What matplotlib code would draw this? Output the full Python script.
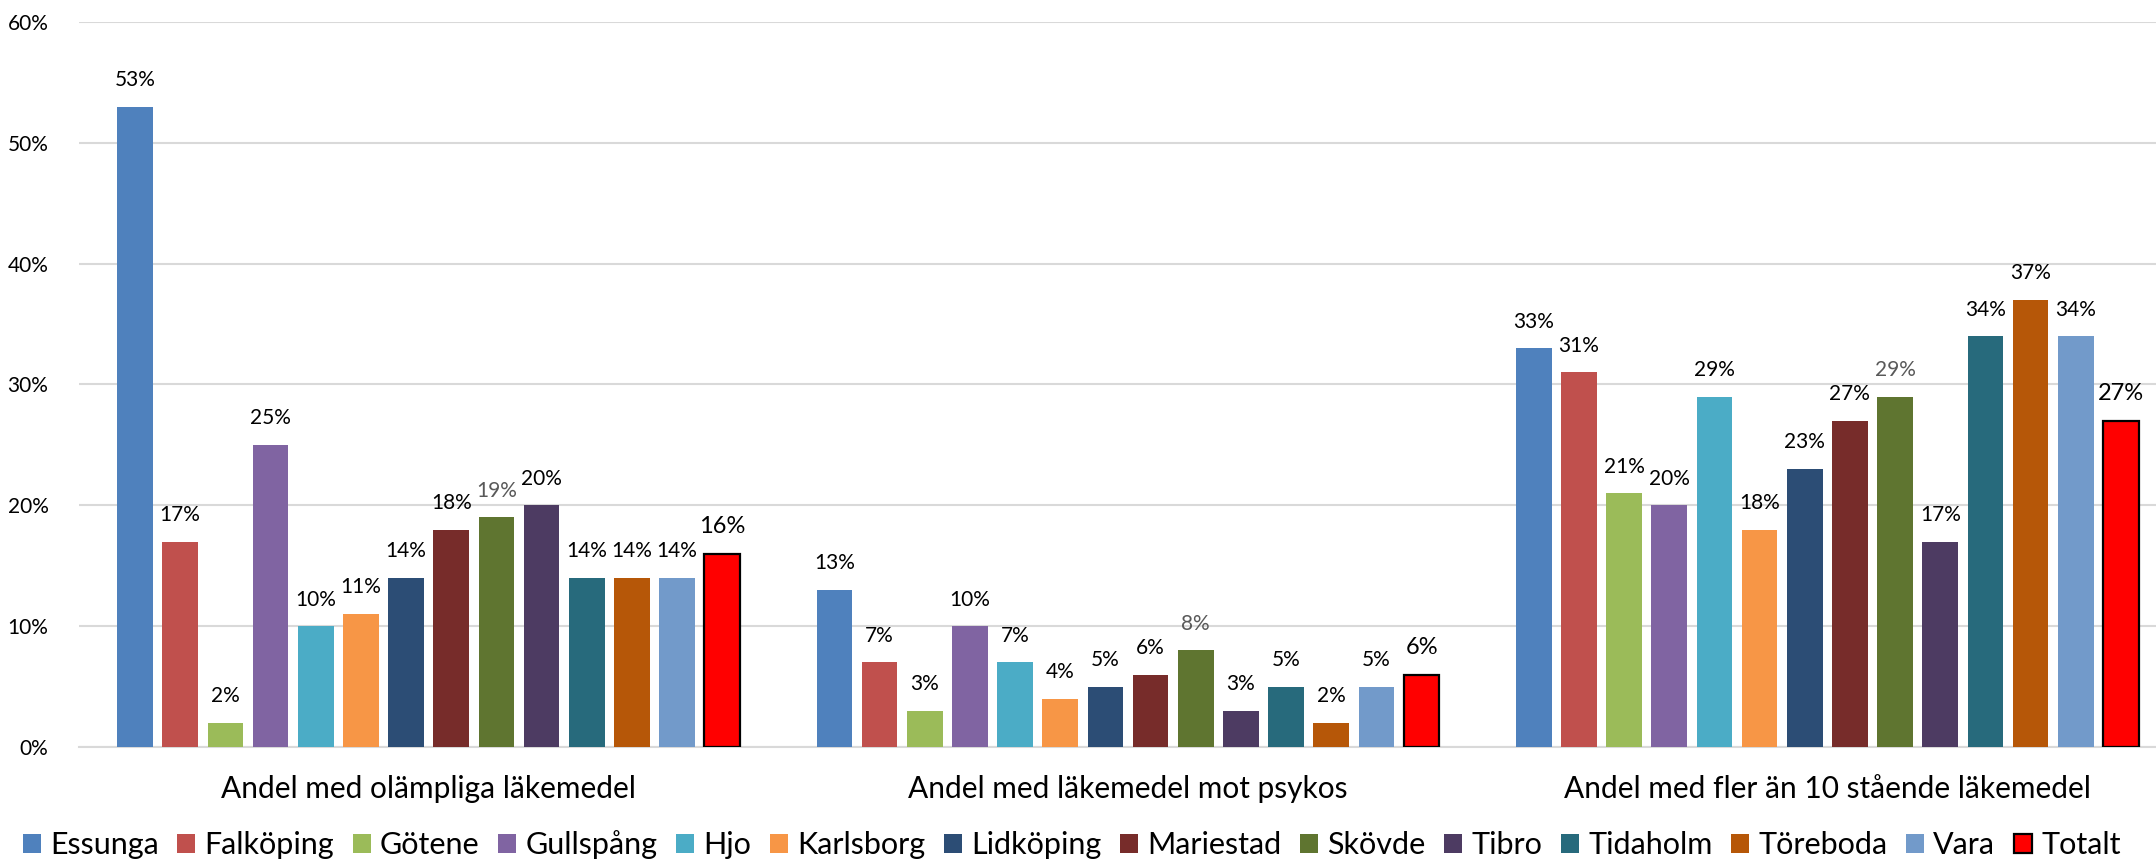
import numpy as np
import matplotlib.pyplot as plt
from matplotlib.ticker import PercentFormatter

plt.rcParams['font.family'] = ['Lato', 'DejaVu Sans']

# Data
categories = ['Andel med olämpliga läkemedel', 'Andel med läkemedel mot psykos',
              'Andel med fler än 10 stående läkemedel']
kommuner = ['Essunga', 'Falköping', 'Götene', 'Gullspång', 'Hjo', 'Karlsborg',
            'Lidköping', 'Mariestad', 'Skövde', 'Tibro', 'Tidaholm', 'Töreboda',
            'Vara', 'Totalt']
olampliga = [53, 17, 2, 25, 10, 11, 14, 18, 19, 20, 14, 14, 14, 16]
psykos = [13, 7, 3, 10, 7, 4, 5, 6, 8, 3, 5, 2, 5, 6]
fler_an_10 = [33, 31, 21, 20, 29, 18, 23, 27, 29, 17, 34, 37, 34, 27]

colors = ['#4F81BD', '#C0504D', '#9BBB59', '#8064A2', '#4BACC6', '#F79646',
          '#2C4D75', '#772C2A', '#5F7530', '#4D3B62', '#276A7C', '#B65708',
          '#729ACA', '#FF0000']

values = np.array([olampliga, psykos, fler_an_10]) / 100.0

fig = plt.figure(figsize=(21.56, 8.59), dpi=100)
ax = fig.add_axes([79 / 2156, 112 / 859, 1 - 79 / 2156, 725 / 859])

x = np.arange(len(categories))
pitch = 0.0646
width = 0.051
for i, name in enumerate(kommuner):
    pos = x + (i - 6.5) * pitch
    if name == 'Totalt':
        bars = ax.bar(pos, values[:, i], width, color=colors[i], edgecolor='black',
                      linewidth=1.6, label=name, zorder=3)
    else:
        bars = ax.bar(pos, values[:, i], width, color=colors[i], label=name, zorder=3)
    for b, v in zip(bars, values[:, i]):
        if name == 'Totalt':
            fs, col = 17, 'black'
        elif name == 'Skövde':
            fs, col = 15, '#595959'
        else:
            fs, col = 15, 'black'
        ax.annotate(f'{round(v * 100)}%', (b.get_x() + b.get_width() / 2, v),
                    xytext=(0, 12), textcoords='offset points',
                    ha='center', va='bottom', fontsize=fs, color=col)

ax.set_ylim(0, 0.6)
ax.set_xlim(-0.5, 2.47)
ax.set_yticks(np.arange(0, 0.61, 0.1))
ax.yaxis.set_major_formatter(PercentFormatter(1.0, decimals=0))
ax.set_xticks(x)
ax.set_xticklabels(categories, fontsize=21.5)
ax.tick_params(axis='y', labelsize=15, length=0, pad=22)
ax.tick_params(axis='x', length=0, pad=20)
ax.grid(axis='y', color='#D9D9D9', linewidth=1.5, zorder=0)
for s in ['top', 'right', 'left']:
    ax.spines[s].set_visible(False)
ax.spines['bottom'].set_color('#D9D9D9')
ax.spines['bottom'].set_linewidth(1.5)

fig.legend(loc='center', bbox_to_anchor=(0.497, 14 / 859), ncol=14,
           frameon=False, fontsize=22, handlelength=0.6, handleheight=0.6,
           handletextpad=0.3, columnspacing=0.6, borderaxespad=0)

fig.savefig('out.png', dpi=100)
